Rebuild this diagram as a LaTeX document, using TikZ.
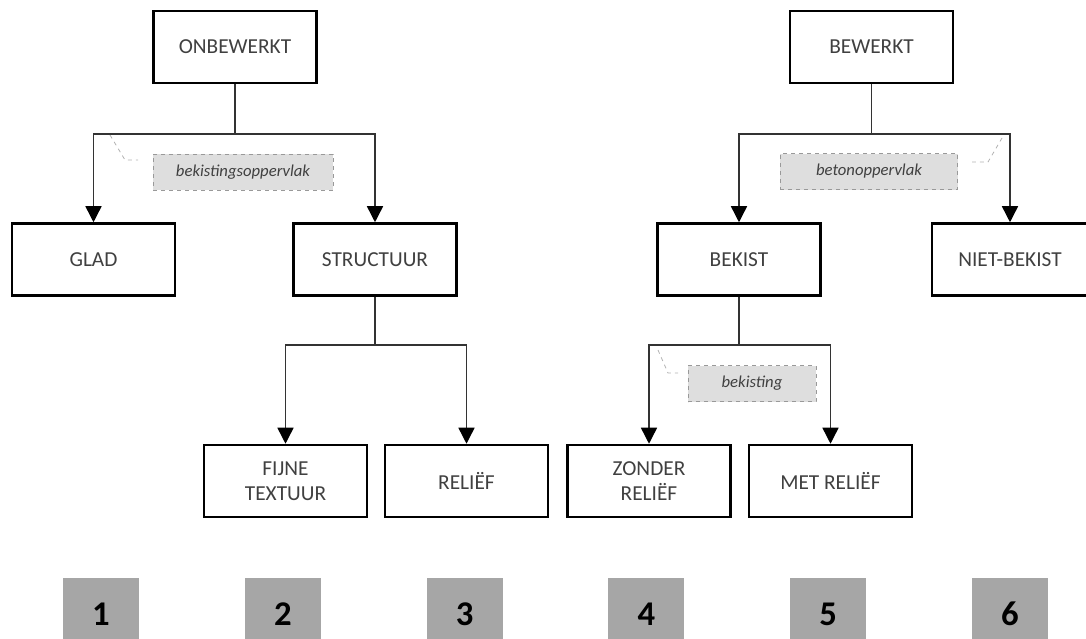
\documentclass[tikz,border=0pt]{standalone}
\usepackage{fontspec}
\setmainfont{Carlito}
\usetikzlibrary{arrows.meta,positioning}
\definecolor{boxtext}{RGB}{64,64,64}
\definecolor{labelfill}{RGB}{222,222,222}
\definecolor{numfill}{RGB}{166,166,166}

\begin{document}
\begin{tikzpicture}[x=0.75pt, y=-0.75pt,
    every node/.style={font=\fontsize{16}{19}\selectfont},
    box/.style={draw=black, line width=1.9pt, fill=white, text=boxtext,
      minimum width=122pt, minimum height=54pt, align=center, inner sep=2pt},
    conn/.style={line width=1.1pt, draw=black!80},
    arr/.style={conn, -{Triangle[width=12pt,length=12pt,color=black]}},
    note/.style={draw=black!40, dashed, line width=0.6pt, fill=labelfill,
      text=boxtext, minimum height=27pt, inner sep=2pt,
      font=\fontsize{12.5}{14}\selectfont\itshape},
    callout/.style={draw=black!30, dashed, line width=0.6pt},
    numbox/.style={fill=numfill, minimum width=57pt, minimum height=54pt,
      font=\fontsize{26}{30}\selectfont\bfseries}]
    \clip (0,0) rectangle (1086,639);
    % Top level
    \node[box] (onb) at (235,47) {ONBEWERKT};
    \node[box] (bew) at (871.5,47) {BEWERKT};
    % Second level
    \node[box] (glad) at (93.5,259.5) {GLAD};
    \node[box] (struc) at (375,259.5) {STRUCTUUR};
    \node[box] (bekist) at (739,259.5) {BEKIST};
    \node[box, minimum width=117pt] (niet) at (1010,259.5) {NIET-BEKIST};
    % Third level
    \node[box] (fijne) at (285.5,481) {FIJNE\\TEXTUUR};
    \node[box] (relief) at (466.5,481) {RELIËF};
    \node[box] (zonder) at (649,481) {ZONDER\\RELIËF};
    \node[box] (met) at (830.5,481) {MET RELIËF};
    % Junctions
    \coordinate (j1) at (235,134);
    \coordinate (j2) at (871.5,134);
    \coordinate (j3) at (375,345);
    \coordinate (j4) at (739,345);
    % Connectors
    \draw[conn] (onb) -- (j1);
    \draw[arr] (j1) -| (glad);
    \draw[arr] (j1) -| (struc);
    \draw[conn] (bew) -- (j2);
    \draw[arr] (j2) -| (bekist);
    \draw[arr] (j2) -| (niet);
    \draw[conn] (struc) -- (j3);
    \draw[arr] (j3) -| (fijne);
    \draw[arr] (j3) -| (relief);
    \draw[conn] (bekist) -- (j4);
    \draw[arr] (j4) -| (zonder);
    \draw[arr] (j4) -| (met);
    % Labels
    \node[note, minimum width=135pt] (lab1) at (243,172) {bekistingsoppervlak};
    \node[note, minimum width=133pt] (lab2) at (869,171.5) {betonoppervlak};
    \node[note, minimum width=96pt] (lab3) at (752,383.5) {bekisting};
    \coordinate (c1) at (110,135);
    \coordinate (c2) at (1002,138);
    \coordinate (c3) at (658,350);
    \draw[callout] (c1) -- (125,160) -- (138,160);
    \draw[callout] (c2) -- (988,162) -- (972,162);
    \draw[callout] (c3) -- (668,373) -- (678,373);
    % Numbers
    \foreach \i in {1,...,6} {
      \node[numbox] (num\i) at ({101+181.8*(\i-1)},614) {\i};
    }
\end{tikzpicture}
\end{document}
